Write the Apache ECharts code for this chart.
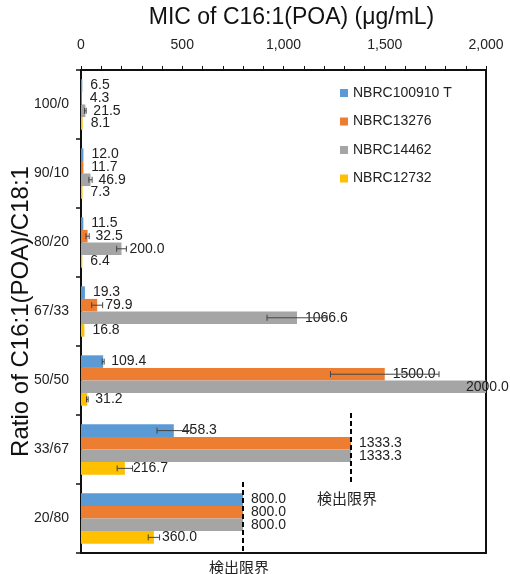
<!DOCTYPE html>
<html>
<head>
<meta charset="utf-8">
<script src="https://cdn.jsdelivr.net/npm/echarts@6/dist/echarts.min.js"></script>
<style>html,body{margin:0;padding:0;background:#fff;}</style>
</head>
<body>
<div id="main" style="width:510px;height:574px;"></div>
<script type="text/javascript">
// categories (ratio C16:1/C18:1)
var categories = ['100/0', '90/10', '80/20', '67/33', '50/50', '33/67', '20/80'];
var seriesNames = ['NBRC100910 T', 'NBRC13276', 'NBRC14462', 'NBRC12732'];
var colors = ['#5B9BD5', '#ED7D31', '#A5A5A5', '#FFC000'];

// MIC values
var nbrc100910 = [6.5, 12.0, 11.5, 19.3, 109.4, 458.3, 800.0];
var nbrc13276 = [4.3, 11.7, 32.5, 79.9, 1500.0, 1333.3, 800.0];
var nbrc14462 = [21.5, 46.9, 200.0, 1066.6, 2000.0, 1333.3, 800.0];
var nbrc12732 = [8.1, 7.3, 6.4, 16.8, 31.2, 216.7, 360.0];

// error (SD), estimated
var err100910 = [0, 0, 0, 0, 5, 83, 0];
var err13276 = [0, 0, 8, 27, 268, 0, 0];
var err14462 = [4, 8, 24, 148, 0, 0, 0];
var err12732 = [0, 0, 0, 0, 4, 38, 28];

// detection limit marks
var limitValues = [1333.3, 800];
var limitCats = ['33/67', '20/80'];
var limitText = '検出限界';

var values = [nbrc100910, nbrc13276, nbrc14462, nbrc12732];
var errors = [err100910, err13276, err14462, err12732];

var chart = echarts.init(document.getElementById('main'));
var barFrac = 0.73 / 4;
var font = 'Arial, "Liberation Sans", sans-serif';

var series = [];
values.forEach(function (vals, i) {
  series.push({
    name: seriesNames[i],
    type: 'bar',
    barGap: 0,
    barCategoryGap: '27%',
    itemStyle: { color: colors[i] },
    label: {
      show: true,
      position: 'right',
      distance: 8,
      color: '#222',
      fontSize: 14,
      fontFamily: font,
      formatter: function (p) { return p.value.toFixed(1); }
    },
    data: vals.map(function (v) {
      if (v >= 2000) {
        return { value: v, label: { offset: [-28, 0] } };
      }
      return v;
    }),
    z: 2
  });
});

// error bars
values.forEach(function (vals, i) {
  var data = [];
  vals.forEach(function (v, j) {
    if (errors[i][j] > 0) data.push([v, categories[j], errors[i][j]]);
  });
  series.push({
    type: 'custom',
    name: 'err' + i,
    z: 5,
    data: data,
    renderItem: function (params, api) {
      var v = api.value(0), e = api.value(2);
      var c = api.coord([v, api.value(1)]);
      var band = api.size([0, 1])[1];
      var y = c[1] + (i - 1.5) * barFrac * band;
      var x1 = api.coord([v - e, api.value(1)])[0];
      var x2 = api.coord([v + e, api.value(1)])[0];
      var st = { stroke: '#444', lineWidth: 1 };
      return {
        type: 'group',
        children: [
          { type: 'line', shape: { x1: x1, y1: y, x2: x2, y2: y }, style: st },
          { type: 'line', shape: { x1: x1, y1: y - 3, x2: x1, y2: y + 3 }, style: st },
          { type: 'line', shape: { x1: x2, y1: y - 3, x2: x2, y2: y + 3 }, style: st }
        ]
      };
    }
  });
});

// detection limit dashed lines
series.push({
  type: 'custom',
  name: 'limit',
  z: 6,
  clip: false,
  data: limitValues.map(function (v, k) { return [v, limitCats[k]]; }),
  renderItem: function (params, api) {
    var c = api.coord([api.value(0), api.value(1)]);
    var band = api.size([0, 1])[1];
    var top = c[1] - band / 2 - 2, bot = c[1] + band / 2;
    return {
      type: 'group',
      children: [
        { type: 'line', shape: { x1: c[0], y1: top, x2: c[0], y2: bot },
          style: { stroke: '#000', lineWidth: 2, lineDash: [5, 3] } },
        { type: 'text', style: { text: limitText, x: c[0] - 4, y: bot + 14,
          align: 'center', verticalAlign: 'middle', fill: '#222',
          font: '15px "Noto Sans CJK JP", sans-serif' } }
      ]
    };
  }
});

chart.setOption({
  animation: false,
  grid: {
    left: 81, right: 24, top: 70, bottom: 21,
    outerBoundsMode: 'none',
    containLabel: false,
    show: true, borderColor: '#111', borderWidth: 2
  },
  legend: {
    data: seriesNames,
    orient: 'vertical',
    left: 335,
    top: 81,
    itemWidth: 8,
    itemHeight: 8,
    itemGap: 14.5,
    icon: 'rect',
    textStyle: { fontSize: 14, color: '#222', fontFamily: font }
  },
  xAxis: {
    type: 'value',
    position: 'top',
    min: 0,
    max: 2000,
    interval: 500,
    name: 'MIC of C16:1(POA) (μg/mL)',
    nameLocation: 'middle',
    nameGap: 41,
    nameMoveOverlap: false,
    nameTextStyle: { fontSize: 23, color: '#111', fontFamily: font, padding: [0, 0, 0, 16] },
    axisLine: { show: true, lineStyle: { color: '#111', width: 1.5 } },
    axisTick: { show: true, length: 4, lineStyle: { color: '#111' } },
    minorTick: { show: true, splitNumber: 5, length: 4, lineStyle: { color: '#111' } },
    splitLine: { show: false },
    axisLabel: {
      fontSize: 14, color: '#222', margin: 18, fontFamily: font,
      formatter: function (v) { return v.toLocaleString('en-US'); }
    }
  },
  yAxis: {
    type: 'category',
    data: categories,
    inverse: true,
    name: 'Ratio of C16:1(POA)/C18:1',
    nameLocation: 'middle',
    nameGap: 48,
    nameMoveOverlap: false,
    nameTextStyle: { fontSize: 24, color: '#111', fontFamily: font },
    axisLine: { show: true, lineStyle: { color: '#111', width: 1.5 } },
    axisTick: { show: true, length: 5, lineStyle: { color: '#111', width: 1.5 } },
    axisLabel: { fontSize: 14, color: '#222', margin: 12, fontFamily: font }
  },
  series: series
});
</script>
</body>
</html>
